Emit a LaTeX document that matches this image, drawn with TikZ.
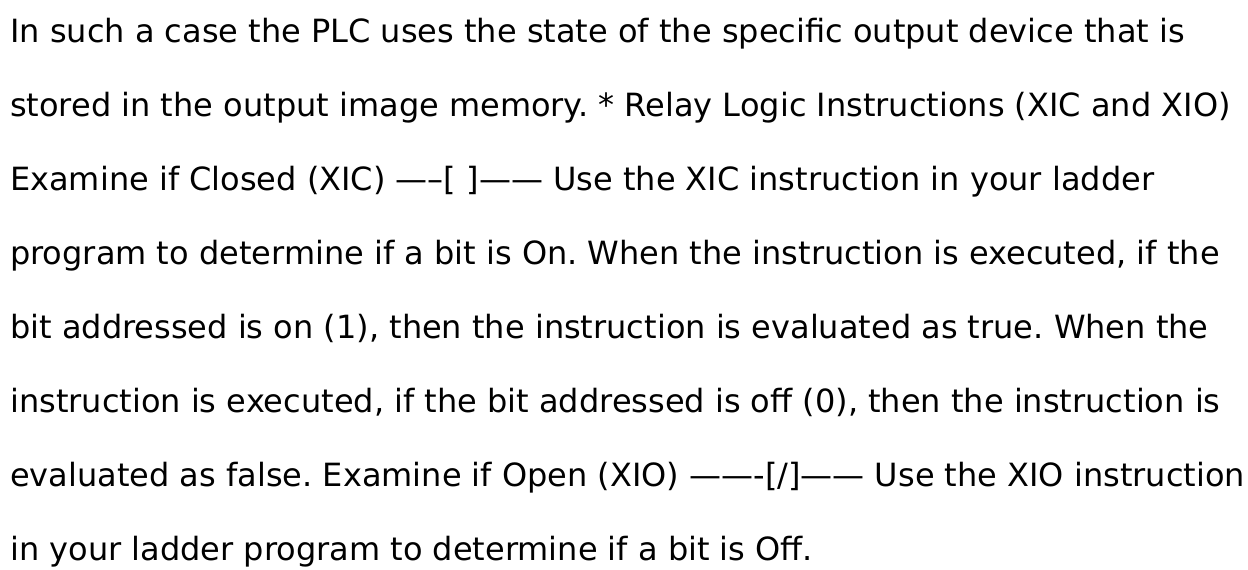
\documentclass[tikz,border=0pt]{standalone}
\usepackage{fontspec}
\setmainfont{DejaVu Sans}
\begin{document}
\begin{tikzpicture}[x=1pt,y=1pt,
  txt/.style={anchor=base west,inner sep=0pt,font=\fontsize{32}{38}\selectfont\frenchspacing}]
\useasboundingbox (0,0) rectangle (1248,-570);
\node[txt] (l1) at (10,-42)  {In such a case the PLC uses the state of the specific output device that is};
\node[txt] (l2) at (10,-116) {stored in the output image memory. * Relay Logic Instructions (XIC and XIO)};
\node[txt] (l3) at (10,-190) {Examine if Closed (XIC) —–[ ]—— Use the XIC instruction in your ladder};
\node[txt] (l4) at (10,-264) {program to determine if a bit is On. When the instruction is executed, if the};
\node[txt] (l5) at (10,-338) {bit addressed is on (1), then the instruction is evaluated as true. When the};
\node[txt] (l6) at (10,-412) {instruction is executed, if the bit addressed is off (0), then the instruction is};
\node[txt] (l7) at (10,-486) {evaluated as false. Examine if Open (XIO) ——-[/]—— Use the XIO instruction};
\node[txt] (l8) at (10,-560) {in your ladder program to determine if a bit is Off.};
\end{tikzpicture}
\end{document}
